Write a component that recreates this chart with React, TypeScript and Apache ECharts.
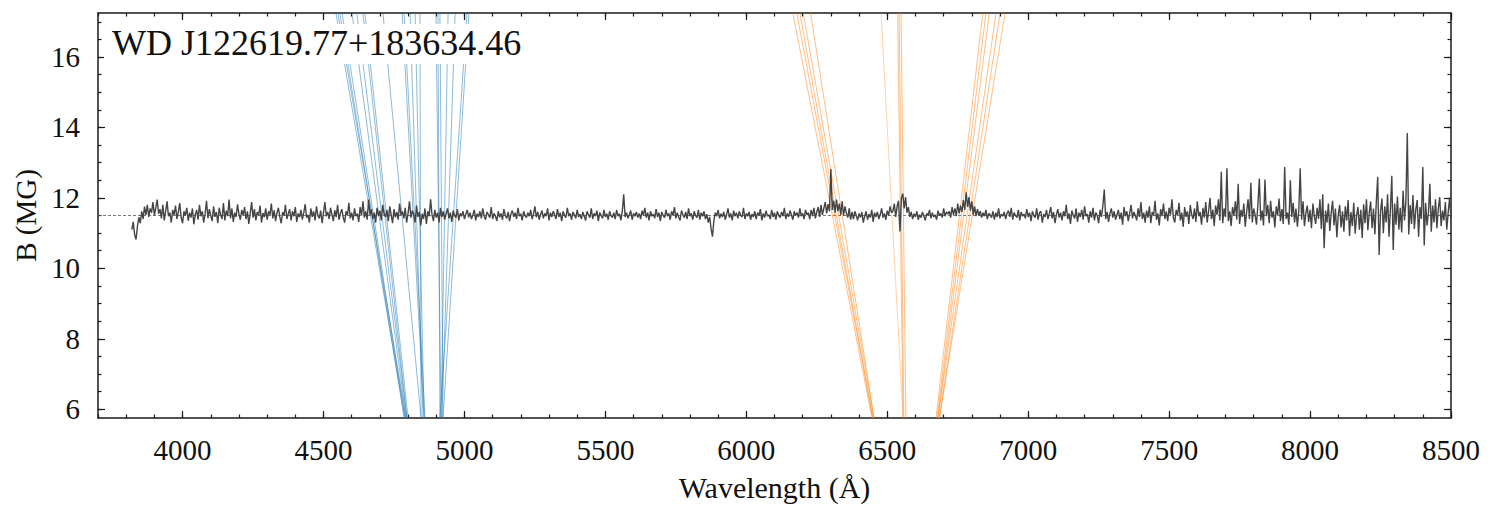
import React, { useEffect, useRef } from "react";
import * as echarts from "echarts";

const FONT = "Liberation Serif";
const X_MIN = 3700;
const X_MAX = 8500;
const Y_MIN = 5.75;
const Y_MAX = 17.25;
const B_FIT = 11.5;
const X_MAJOR = [4000, 4500, 5000, 5500, 6000, 6500, 7000, 7500, 8000, 8500];
const Y_MAJOR = [6, 8, 10, 12, 14, 16];
const TITLE = "WD J122619.77+183634.46";
const X_LABEL = "Wavelength (Å)";
const Y_LABEL = "B (MG)";

// field-strength trace sampled from 3820 Å every 5 Å
const WAVE_START = 3820;
const WAVE_STEP = 5;
const FIELD = [
  11.10, 11.32, 10.95, 10.82, 11.20, 11.45, 11.28, 11.62, 11.40, 11.75, 11.52, 11.80, 11.46, 11.70, 11.58, 11.88, 11.50, 11.72, 11.95, 11.55,
  11.68, 11.42, 11.80, 11.36, 11.62, 11.90, 11.48, 11.58, 11.30, 11.66, 11.52, 11.78, 11.40, 11.60, 11.85, 11.45, 11.28, 11.62, 11.50, 11.72,
  11.35, 11.58, 11.44, 11.70, 11.25, 11.52, 11.66, 11.38, 11.80, 11.48, 11.62, 11.30, 11.55, 11.92, 11.42, 11.68, 11.50, 11.34, 11.76, 11.46,
  11.60, 11.28, 11.72, 11.52, 11.40, 11.85, 11.36, 11.64, 11.48, 11.95, 11.42, 11.70, 11.32, 11.58, 11.46, 11.82, 11.54, 11.38, 11.66, 11.50,
  11.74, 11.40, 11.62, 11.26, 11.55, 11.88, 11.44, 11.68, 11.36, 11.60, 11.50, 11.78, 11.30, 11.57, 11.45, 11.70, 11.38, 11.62, 11.52, 11.84,
  11.42, 11.65, 11.34, 11.58, 11.72, 11.46, 11.28, 11.60, 11.50, 11.80, 11.40, 11.55, 11.68, 11.36, 11.62, 11.48, 11.74, 11.32, 11.56, 11.45,
  11.66, 11.38, 11.58, 11.82, 11.44, 11.52, 11.30, 11.70, 11.46, 11.62, 11.36, 11.76, 11.50, 11.42, 11.64, 11.28, 11.58, 11.88, 11.48, 11.60,
  11.40, 11.72, 11.52, 11.34, 11.65, 11.46, 11.80, 11.38, 11.56, 11.68, 11.44, 11.30, 11.62, 11.50, 11.86, 11.42, 11.58, 11.36, 11.70, 11.48,
  11.55, 11.32, 11.74, 11.50, 11.90, 11.44, 11.62, 11.38, 11.95, 11.52, 11.68, 11.40, 11.58, 11.30, 11.72, 11.48, 11.64, 11.36, 11.80, 11.54,
  11.46, 11.66, 11.34, 11.76, 11.52, 11.28, 11.68, 11.45, 11.60, 11.38, 11.84, 11.50, 11.62, 11.42, 11.72, 11.30, 11.56, 11.90, 11.44, 11.64,
  11.52, 11.30, 11.78, 11.46, 11.60, 11.22, 11.55, 11.40, 11.70, 11.26, 11.62, 11.48, 11.96, 11.52, 11.34, 11.66, 11.44, 11.58, 11.30, 11.72,
  11.46, 11.62, 11.38, 11.55, 11.70, 11.42, 11.58, 11.32, 11.64, 11.50, 11.44, 11.68, 11.36, 11.56, 11.48, 11.62, 11.40, 11.54, 11.66, 11.45,
  11.58, 11.40, 11.52, 11.66, 11.36, 11.55, 11.46, 11.62, 11.42, 11.70, 11.48, 11.38, 11.60, 11.52, 11.44, 11.74, 11.40, 11.56, 11.48, 11.35,
  11.62, 11.45, 11.56, 11.38, 11.68, 11.50, 11.42, 11.60, 11.34, 11.54, 11.64, 11.46, 11.58, 11.40, 11.72, 11.48, 11.55, 11.36, 11.62, 11.50,
  11.44, 11.58, 11.48, 11.66, 11.40, 11.54, 11.76, 11.45, 11.60, 11.38, 11.52, 11.64, 11.42, 11.56, 11.48, 11.70, 11.36, 11.58, 11.46, 11.62,
  11.52, 11.40, 11.68, 11.46, 11.58, 11.34, 11.62, 11.50, 11.44, 11.72, 11.48, 11.56, 11.38, 11.60, 11.52, 11.42, 11.66, 11.46, 11.54, 11.40,
  11.60, 11.48, 11.36, 11.62, 11.52, 11.44, 11.70, 11.40, 11.56, 11.48, 11.64, 11.34, 11.58, 11.50, 11.42, 11.66, 11.46, 11.55, 11.38, 11.62,
  11.50, 11.44, 11.58, 11.40, 11.66, 11.48, 11.55, 11.36, 11.62, 12.10, 11.46, 11.58, 11.42, 11.52, 11.64, 11.38, 11.56, 11.48, 11.60, 11.44,
  11.56, 11.40, 11.64, 11.50, 11.72, 11.44, 11.58, 11.36, 11.62, 11.48, 11.54, 11.42, 11.68, 11.46, 11.58, 11.34, 11.60, 11.50, 11.44, 11.66,
  11.48, 11.56, 11.38, 11.62, 11.50, 11.74, 11.42, 11.58, 11.46, 11.36, 11.64, 11.52, 11.44, 11.60, 11.40, 11.70, 11.48, 11.56, 11.38, 11.62,
  11.50, 11.44, 11.66, 11.38, 11.58, 11.48, 11.62, 11.40, 11.54, 11.30, 11.46, 11.12, 10.90, 11.36, 11.58, 11.48, 11.66, 11.42, 11.55, 11.46,
  11.60, 11.38, 11.52, 11.70, 11.44, 11.56, 11.36, 11.64, 11.48, 11.58, 11.42, 11.62, 11.50, 11.46, 11.72, 11.40, 11.56, 11.48, 11.60, 11.38,
  11.54, 11.46, 11.62, 11.40, 11.58, 11.50, 11.68, 11.36, 11.56, 11.44, 11.64, 11.48, 11.52, 11.40, 11.66, 11.46, 11.58, 11.38, 11.62, 11.50,
  11.44, 11.60, 11.48, 11.72, 11.40, 11.56, 11.46, 11.64, 11.52, 11.38, 11.62, 11.50, 11.58, 11.44, 11.70, 11.48, 11.56, 11.40, 11.66, 11.52,
  11.58, 11.40, 11.66, 11.48, 11.72, 11.42, 11.60, 11.74, 11.46, 11.80, 11.52, 11.70, 11.88, 11.56, 11.82, 11.62, 12.82, 11.66, 11.92, 11.58,
  11.95, 11.62, 11.84, 11.52, 11.90, 11.50, 11.76, 11.56, 11.44, 11.70, 11.38, 11.60, 11.40, 11.62, 11.50, 11.36, 11.56, 11.44, 11.60, 11.30,
  11.48, 11.62, 11.38, 11.54, 11.44, 11.66, 11.32, 11.58, 11.46, 11.60, 11.40, 11.52, 11.70, 11.44, 11.56, 11.38, 11.64, 11.50, 11.76, 11.58,
  11.62, 11.84, 11.46, 11.76, 11.92, 11.05, 11.98, 12.12, 11.70, 12.02, 11.58, 11.74, 11.46, 11.60, 11.40, 11.55, 11.46, 11.62, 11.38, 11.52,
  11.44, 11.60, 11.48, 11.36, 11.56, 11.50, 11.66, 11.42, 11.58, 11.46, 11.52, 11.38, 11.64, 11.50, 11.56, 11.44, 11.70, 11.48, 11.60, 11.54,
  11.62, 11.44, 11.74, 11.52, 11.70, 11.48, 11.84, 11.56, 11.78, 11.60, 11.94, 11.66, 12.16, 11.74, 12.02, 11.64, 11.90, 11.52, 11.76, 11.48,
  11.68, 11.50, 11.62, 11.44, 11.58, 11.48, 11.66, 11.40, 11.56, 11.52, 11.44, 11.62, 11.38, 11.58, 11.46, 11.70, 11.42, 11.54, 11.48, 11.60,
  11.40, 11.56, 11.64, 11.46, 11.72, 11.38, 11.58, 11.50, 11.44, 11.66, 11.36, 11.60, 11.48, 11.54, 11.42, 11.68, 11.46, 11.58, 11.34, 11.62,
  11.50, 11.44, 11.70, 11.38, 11.58, 11.62, 11.30, 11.54, 11.46, 11.66, 11.40, 11.56, 11.74, 11.42, 11.60, 11.28, 11.52, 11.68, 11.44, 11.58,
  11.36, 11.62, 11.48, 11.80, 11.40, 11.56, 11.26, 11.64, 11.50, 11.42, 11.70, 11.32, 11.58, 11.46, 11.66, 11.38, 11.76, 11.48, 11.54, 11.30,
  11.62, 11.44, 11.72, 11.36, 11.58, 11.50, 11.28, 11.66, 11.46, 11.78, 12.24, 11.40, 11.60, 11.32, 11.56, 11.70, 11.44, 11.62, 11.38, 11.52,
  11.66, 11.40, 11.58, 11.24, 11.74, 11.48, 11.62, 11.34, 11.56, 11.80, 11.42, 11.60, 11.50, 11.36, 11.70, 11.46, 11.88, 11.40, 11.58, 11.30,
  11.64, 11.44, 11.76, 11.28, 11.60, 11.50, 11.92, 11.38, 11.56, 11.22, 11.68, 11.48, 11.84, 11.40, 11.62, 11.34, 11.72, 11.52, 11.96, 11.44,
  11.30, 11.66, 11.50, 11.86, 11.36, 11.58, 11.18, 11.74, 11.46, 11.62, 11.26, 11.80, 11.52, 11.40, 11.70, 11.32, 11.90, 11.48, 11.60, 11.24,
  11.72, 11.44, 11.88, 11.30, 11.62, 12.00, 11.40, 11.66, 11.20, 11.78, 11.52, 11.96, 11.36, 12.74, 11.28, 11.70, 11.46, 12.84, 11.34, 11.62,
  11.20, 11.74, 11.50, 11.90, 11.38, 12.40, 11.26, 11.66, 11.46, 11.84, 11.18, 11.60, 11.96, 11.40, 12.43, 11.30, 11.70, 11.52, 11.24, 11.82,
  12.55, 11.36, 11.64, 11.22, 12.52, 11.48, 11.80, 11.28, 11.92, 11.44, 11.62, 11.16, 11.76, 11.50, 11.98, 11.34, 11.68, 11.26, 12.88, 11.40,
  11.58, 11.24, 12.50, 11.46, 11.86, 11.30, 11.70, 11.18, 11.62, 12.84, 11.38, 11.90, 11.20, 11.56, 11.78, 11.32, 11.66, 11.14, 11.84, 11.48,
  11.26, 11.72, 11.40, 11.96, 11.12, 12.10, 10.57, 11.64, 11.30, 11.84, 11.06, 11.58, 11.92, 11.22, 11.70, 10.88, 11.52, 11.80, 11.16, 11.62,
  11.04, 11.76, 11.36, 11.94, 10.92, 11.60, 11.20, 11.86, 10.98, 11.50, 11.74, 11.10, 11.66, 10.86, 11.82, 11.28, 11.96, 11.08, 11.58, 11.90,
  11.14, 11.70, 10.96, 11.88, 12.60, 10.38, 11.62, 11.98, 11.00, 11.76, 11.30, 12.10, 10.90, 11.66, 12.63, 10.52, 11.84, 11.24, 12.04, 11.10,
  11.72, 11.02, 12.20, 11.36, 11.90, 13.84, 10.96, 11.80, 11.26, 12.08, 11.12, 11.66, 11.94, 10.90, 11.74, 11.40, 12.88, 10.65, 11.86, 11.22,
  11.60, 12.40, 11.04, 11.78, 11.30, 11.96, 11.14, 11.70, 12.02, 11.20, 11.64, 11.36, 11.88, 11.10, 11.58, 12.00, 11.40,
];

// Zeeman component tracks: wavelength at the lowest and highest field shown
const B_ENDS = [5.75, 17.25];
const HBETA_LOW = [4789, 4793, 4786, 4789, 4793, 4796, 4796, 4800, 4846, 4857, 4860, 4853, 4857, 4846, 4917, 4913, 4924, 4917, 4920, 4913, 4924];
const HBETA_HIGH = [4544, 4551, 4558, 4566, 4601, 4618, 4640, 4647, 4711, 4779, 4786, 4807, 4825, 4842, 4899, 4906, 4913, 4942, 4967, 5009, 5016];
const HALPHA_LOW = [6446, 6449, 6449, 6453, 6453, 6556, 6556, 6559, 6566, 6673, 6677, 6680, 6680, 6685, 6685];
const HALPHA_HIGH = [6165, 6179, 6190, 6202, 6228, 6478, 6537, 6542, 6549, 6839, 6850, 6862, 6886, 6900, 6918];

const INK = "#1a1a1a";

function range(a: number, b: number, step: number) {
  const out: number[] = [];
  for (let v = a; v <= b + 1e-9; v += step) out.push(Math.round(v * 1000) / 1000);
  return out;
}
const X_MINOR = range(3700, 8500, 100);
const Y_MINOR = range(6, 17, 0.5);

export default function App() {
  const ref = useRef<HTMLDivElement>(null);
  useEffect(() => {
    document.body.style.margin = "0";
    const chart = echarts.init(ref.current!, null, { renderer: "svg" });

    const spectrum = FIELD.map((b, i) => [WAVE_START + i * WAVE_STEP, b]);

    const track = (lo: number, hi: number, color: string, opacity: number) => ({
      type: "line",
      data: [
        [lo, B_ENDS[0]],
        [hi, B_ENDS[1]],
      ],
      symbol: "none",
      silent: true,
      z: 3,
      lineStyle: { color, width: 1, opacity },
    });

    const xBase = (position: string, major: boolean, showLine: boolean, labels: boolean) => ({
      type: "value",
      min: X_MIN,
      max: X_MAX,
      position,
      axisLine: { show: showLine, onZero: false, lineStyle: { color: INK, width: 1.5 } },
      axisTick: {
        show: true,
        inside: true,
        length: major ? 7 : 3.5,
        customValues: major ? X_MAJOR : X_MINOR,
        lineStyle: { color: INK, width: 1.2 },
      },
      axisLabel: labels
        ? {
            show: true,
            customValues: X_MAJOR,
            formatter: (v: number) => String(v),
            margin: 17,
            fontSize: 29,
            fontFamily: FONT,
            color: "#111",
          }
        : { show: false },
      splitLine: { show: false },
    });

    const yBase = (position: string, major: boolean, showLine: boolean, labels: boolean) => ({
      type: "value",
      min: Y_MIN,
      max: Y_MAX,
      position,
      axisLine: { show: showLine, onZero: false, lineStyle: { color: INK, width: 1.5 } },
      axisTick: {
        show: true,
        inside: true,
        length: major ? 7 : 3.5,
        customValues: major ? Y_MAJOR : Y_MINOR,
        lineStyle: { color: INK, width: 1.2 },
      },
      axisLabel: labels
        ? {
            show: true,
            customValues: Y_MAJOR,
            formatter: (v: number) => String(v),
            margin: 18,
            fontSize: 29,
            fontFamily: FONT,
            color: "#111",
          }
        : { show: false },
      splitLine: { show: false },
    });

    const x0: any = xBase("bottom", true, true, true);
    x0.name = X_LABEL;
    x0.nameLocation = "middle";
    x0.nameGap = 54;
    x0.nameTextStyle = { fontSize: 30, fontFamily: FONT, color: "#111" };
    const y0: any = yBase("left", true, true, true);
    y0.name = Y_LABEL;
    y0.nameLocation = "middle";
    y0.nameGap = 54;
    y0.nameTextStyle = { fontSize: 29, fontFamily: FONT, color: "#111" };

    const series: any[] = [
      {
        type: "line",
        data: [
          [X_MIN, B_FIT],
          [X_MAX, B_FIT],
        ],
        symbol: "none",
        silent: true,
        z: 2,
        lineStyle: { color: "#555", width: 0.8, type: [3, 2] },
      },
    ];
    HBETA_LOW.forEach((lo, i) => series.push(track(lo, HBETA_HIGH[i], "#1f77b4", 0.5)));
    HALPHA_LOW.forEach((lo, i) =>
      series.push(track(lo, HALPHA_HIGH[i], "#ff7f0e", i === 5 ? 0.35 : 0.5))
    );
    series.push({
      type: "line",
      data: spectrum,
      symbol: "none",
      silent: true,
      z: 5,
      lineStyle: { color: "#454545", width: 1.4 },
    });

    chart.setOption({
      animation: false,
      backgroundColor: "#fff",
      grid: { left: 98, top: 13, right: 43, bottom: 101, containLabel: false },
      xAxis: [
        x0,
        xBase("bottom", false, false, false),
        xBase("top", true, true, false),
        xBase("top", false, false, false),
      ],
      yAxis: [
        y0,
        yBase("left", false, false, false),
        yBase("right", true, true, false),
        yBase("right", false, false, false),
      ],
      series,
      graphic: [
        {
          type: "rect",
          z: 100,
          shape: { x: 104, y: 24, width: 422, height: 40 },
          style: { fill: "#fff" },
          silent: true,
        },
        {
          type: "text",
          z: 101,
          x: 112,
          y: 43,
          style: {
            text: TITLE,
            fontSize: 36,
            fontFamily: FONT,
            fill: "#111",
            verticalAlign: "middle",
            align: "left",
          },
          silent: true,
        },
      ],
    });
    return () => chart.dispose();
  }, []);
  return <div ref={ref} style={{ width: 1494, height: 519 }} />;
}
